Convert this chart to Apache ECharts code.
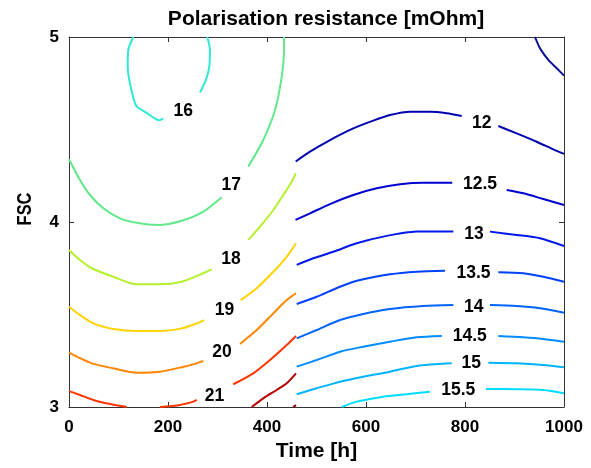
<!DOCTYPE html>
<html><head><meta charset="utf-8">
<script src="https://cdn.jsdelivr.net/npm/echarts@6/dist/echarts.min.js"></script>
<style>html,body{margin:0;padding:0;background:#fff}#c{width:591px;height:468px}</style>
</head><body><div id="c"></div>
<script>
// ---- data (Time [h], FSC) ----
const xTicks = [0, 200, 400, 600, 800, 1000];
const yTicks = [3, 4, 5];
const levels = ['11.5','12','12.5','13','13.5','14','14.5','15','15.5','16','17','18','19','20','21','22','23'];

const contour11_5 = [[[941.4,5.0],[951.5,4.939],[968.3,4.876],[985.3,4.831],[1000,4.791]]];
const contour12 = [[[458,4.327],[486.9,4.380],[527.3,4.443],[574.3,4.506],[614.7,4.548],[648.5,4.578],[688.9,4.596],[729.3,4.596],[763,4.588],[793.3,4.573]],
                   [[867.3,4.519],[904.4,4.479],[944.8,4.434],[978.4,4.393],[1000,4.368]]];
const contour12_5 = [[[457.6,4.011],[486.9,4.047],[527.3,4.097],[574.3,4.146],[621.6,4.182],[668.7,4.204],[715.8,4.212],[774.3,4.212]],
                     [[884.2,4.173],[917.8,4.155],[958.2,4.124],[1000,4.092]]];
const contour13 = [[[460,3.768],[493.5,3.804],[533.9,3.839],[581.2,3.885],[635,3.921],[702.4,3.948],[776.4,3.949]],
                   [[850.5,3.948],[904.4,3.930],[951.5,3.912],[1000,3.870]]];
const contour13_5 = [[[460,3.557],[500.4,3.596],[547.5,3.650],[587.9,3.686],[648.5,3.717],[702.4,3.731],[759.6,3.737]],
                     [[867.3,3.728],[917.8,3.723],[958.2,3.704],[1000,3.677]]];
const contour14 = [[[460,3.371],[500.4,3.416],[547.5,3.470],[594.5,3.503],[648.5,3.530],[715.8,3.546],[776.4,3.551]],
                   [[850.5,3.551],[904.4,3.546],[951.5,3.534],[1000,3.510]]];
const contour14_5 = [[[460,3.218],[500.4,3.254],[547.5,3.299],[594.5,3.326],[648.5,3.353],[702.4,3.377],[752.9,3.384]],
                     [[867.3,3.384],[917.8,3.377],[958.2,3.368],[1000,3.353]]];
const contour15 = [[[460,3.069],[500.4,3.101],[547.5,3.137],[594.5,3.164],[648.5,3.191],[702.4,3.222],[773.1,3.236]],
                   [[847.1,3.239],[904.4,3.236],[958.2,3.227],[1000,3.215]]];
const contour15_5 = [[[550.9,3.0],[581.2,3.029],[635,3.056],[682.2,3.069],[729.3,3.083]],
                     [[842.4,3.097],[904.4,3.096],[958.2,3.092],[1000,3.074]]];
const contour16 = [[[129.9,5.0],[119.8,4.93],[118.6,4.84],[123.2,4.75],[135.4,4.63],[157,4.59],[182.4,4.55],[190.5,4.56]],
                   [[279.4,5.0],[284.8,4.93],[283.4,4.84],[276.8,4.77],[264.6,4.70]]];
const contour17 = [[[0,4.339],[22.2,4.227],[42.4,4.146],[69.3,4.074],[103,4.020],[136.8,3.996],[180.4,3.984],[227.7,4.007],[271.3,4.056],[308.5,4.134]],
                   [[362.2,4.299],[392.5,4.443],[416.2,4.605],[429.7,4.785],[434.3,4.93],[434.3,5.0]]];
const contour18 = [[[0,3.849],[22.2,3.795],[45.9,3.750],[89.5,3.704],[136.8,3.663],[183.8,3.663],[227.7,3.677],[271.3,3.723],[288.3,3.744]],
                   [[362.2,3.903],[385.9,3.975],[412.7,4.065],[432.9,4.146],[449.9,4.218],[458,4.263]]];
const contour19 = [[[0,3.542],[22.2,3.497],[49.1,3.452],[89.5,3.422],[136.8,3.411],[180.4,3.411],[227.7,3.425],[258,3.452],[272.7,3.470]],
                   [[346.9,3.578],[379.2,3.642],[412.7,3.731],[439.8,3.812],[458.6,3.885]]];
const contour20 = [[[0,3.294],[22.2,3.264],[45.9,3.236],[89.5,3.209],[136.8,3.185],[183.8,3.191],[227.7,3.215],[258,3.236],[271.3,3.249]],
                   [[345.5,3.341],[379.2,3.416],[412.7,3.506],[439.8,3.578],[458.6,3.615]]];
const contour21 = [[[0,3.086],[22.2,3.065],[49.1,3.038],[82.8,3.016],[116.6,3.0]],
                   [[183.8,3.0],[224.2,3.011],[251.1,3.029],[258,3.038]],
                   [[331.9,3.123],[372.3,3.182],[406.1,3.254],[439.8,3.335],[458.6,3.384]]];
const contour22 = [[[369.1,3.0],[392.5,3.047],[419.6,3.092],[439.8,3.128],[458.6,3.182]]];
const contour23 = [[[453,3.0],[458.6,3.01]]];

// contour label anchors [Time, FSC, text]
const contourLabels = [
  [230.9,4.601,'16'],[327.7,4.200,'17'],[327.3,3.801,'18'],[314.1,3.526,'19'],[309.1,3.297,'20'],[293.9,3.059,'21'],
  [833.7,4.534,'12'],[830.3,4.207,'12.5'],[818.2,3.935,'13'],[817.2,3.724,'13.5'],[817.6,3.538,'14'],
  [809.7,3.384,'14.5'],[812.5,3.236,'15'],[786.5,3.090,'15.5']
];

// ---- styles ----
const contours = [contour11_5,contour12,contour12_5,contour13,contour13_5,contour14,contour14_5,contour15,contour15_5,
                  contour16,contour17,contour18,contour19,contour20,contour21,contour22,contour23];
const colors = ['#0c0c9c','#0000b0','#0000d0','#0018ee','#0040ff','#0064ff','#008cff','#00b4ff','#00dcff',
                '#30e8d4','#60e88a','#b4f02c','#ffd200','#ff8400','#ff3400','#b40000','#900000'];
const FONT = 'Liberation Sans, Arial, sans-serif';

const series = [];
contours.forEach((segs, i) => {
  segs.forEach(seg => {
    series.push({
      type: 'line', name: levels[i], data: seg, showSymbol: false, symbol: 'none',
      smooth: 0.25, clip: true, silent: true,
      lineStyle: {color: colors[i], width: 2}
    });
  });
});
series.push({
  type: 'scatter', data: contourLabels, symbolSize: 1, silent: true,
  itemStyle: {color: 'rgba(255,255,255,0)', opacity: 1},
  label: {show: true, position: 'inside', formatter: p => p.data[2], color: '#000', fontSize: 17.5, fontWeight: 'bold', fontFamily: FONT}
});

const axisCommon = {
  axisLine: {show: true, onZero: false, lineStyle: {color: '#333', width: 1}},
  axisTick: {show: true, inside: true, length: 5, lineStyle: {color: '#333'}},
  splitLine: {show: false}
};
const labelStyle = {color: '#000', fontSize: 17, fontWeight: 'bold', fontFamily: FONT, formatter: v => String(v)};
const nameStyle = {color: '#000', fontSize: 21, fontWeight: 'bold', fontFamily: FONT};

const option = {
  animation: false,
  backgroundColor: '#fff',
  title: {text: 'Polarisation resistance [mOhm]', left: 321, textAlign: 'center', top: 4,
          textStyle: {color: '#000', fontSize: 21, fontWeight: 'bold', fontFamily: FONT}},
  grid: {left: 69, right: 27, top: 37, bottom: 61, containLabel: false},
  xAxis: [
    Object.assign({type: 'value', min: xTicks[0], max: xTicks[xTicks.length-1], interval: 200, position: 'bottom',
      axisLabel: Object.assign({margin: 12}, labelStyle),
      name: 'Time [h]', nameLocation: 'middle', nameGap: 33, nameTextStyle: nameStyle}, axisCommon),
    Object.assign({type: 'value', min: xTicks[0], max: xTicks[xTicks.length-1], interval: 200, position: 'top',
      axisLabel: {show: false}}, axisCommon)
  ],
  yAxis: [
    Object.assign({type: 'value', min: yTicks[0], max: yTicks[yTicks.length-1], interval: 1, position: 'left',
      axisLabel: Object.assign({margin: 10}, labelStyle)}, axisCommon),
    Object.assign({type: 'value', min: yTicks[0], max: yTicks[yTicks.length-1], interval: 1, position: 'right',
      axisLabel: {show: false}}, axisCommon)
  ],
  graphic: [{
    type: 'text', x: 25, y: 209, rotation: Math.PI / 2, scaleX: 0.78, silent: true,
    style: {text: 'FSC', fill: '#000', font: 'bold 21px Liberation Sans, Arial, sans-serif', textAlign: 'center', textVerticalAlign: 'middle'}
  }],
  series: series
};
const chart = echarts.init(document.getElementById('c'), null, {renderer: 'canvas'});
chart.setOption(option);
</script>
</body></html>
